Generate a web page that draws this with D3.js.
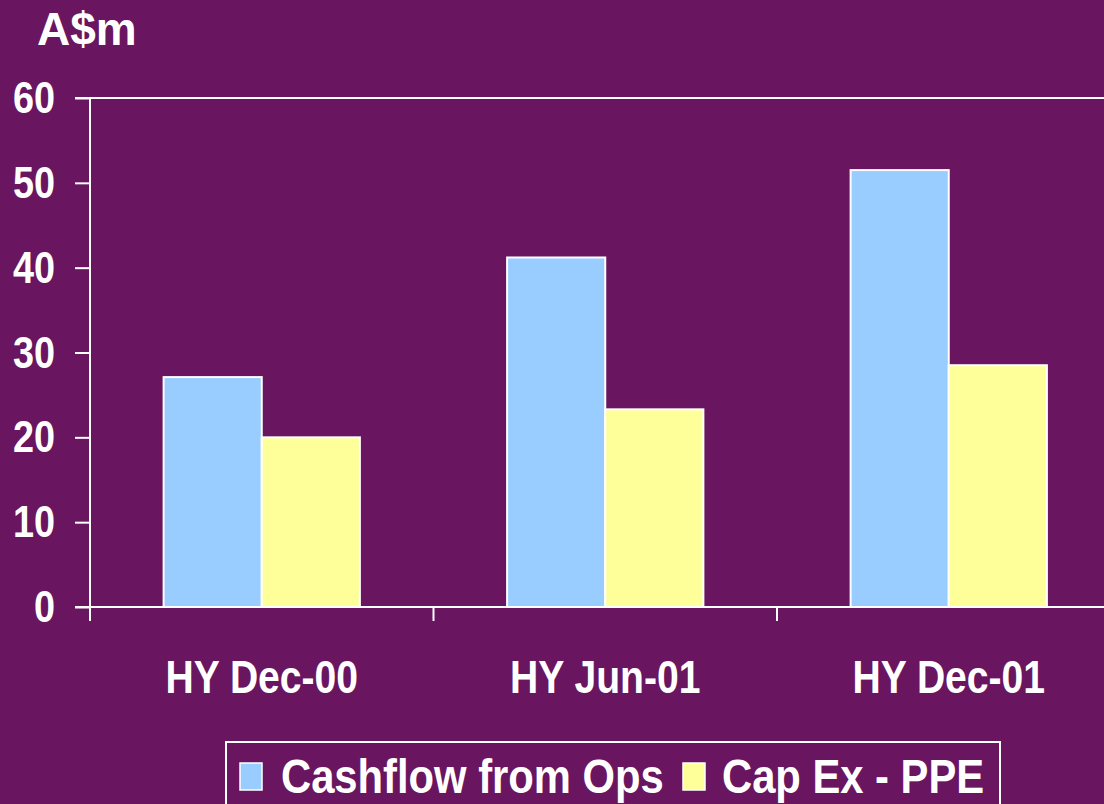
<!DOCTYPE html>
<html>
<head>
<meta charset="utf-8">
<script src="https://cdn.jsdelivr.net/npm/d3@7"></script>
<style>
  html, body { margin: 0; padding: 0; background: #69155f; }
  svg { display: block; }
  text { font-family: "Liberation Sans", Arial, sans-serif; font-weight: bold; fill: #fff; }
</style>
</head>
<body>
<div id="chart"></div>
<script>
// data
const categories = ["HY Dec-00", "HY Jun-01", "HY Dec-01"];
const seriesNames = ["Cashflow from Ops", "Cap Ex - PPE"];
const cashflow = [27.1, 41.2, 51.5];
const capex = [20.0, 23.3, 28.5];
const yTicks = [0, 10, 20, 30, 40, 50, 60];
const colors = ["#99ccff", "#ffff99"];

const width = 1104, height = 804;
const svg = d3.select("#chart").append("svg")
    .attr("width", width)
    .attr("height", height);

svg.append("rect").attr("width", width).attr("height", height).attr("fill", "#69155f");

const plotLeft = 90, plotTop = 98, plotBottom = 607;
const step = 343.5;

const y = d3.scaleLinear().domain([0, 60]).range([plotBottom, plotTop]);
const x0 = d3.scaleBand().domain(categories)
    .range([plotLeft, plotLeft + step * categories.length])
    .padding(0);
const x1 = d3.scaleBand().domain(seriesNames)
    .range([0, x0.bandwidth()])
    .paddingInner(0)
    .paddingOuter(0.75);

const rows = categories.map((c, i) => ({ cat: c, vals: [cashflow[i], capex[i]] }));

// top border line
svg.append("line")
    .attr("x1", 75).attr("x2", width)
    .attr("y1", y(60)).attr("y2", y(60))
    .attr("stroke", "#fff").attr("stroke-width", 2);

// bars
const groups = svg.selectAll("g.grp")
    .data(rows)
    .enter()
    .append("g")
    .attr("class", "grp")
    .attr("transform", d => `translate(${x0(d.cat)},0)`);

groups.selectAll("rect")
    .data(d => d.vals.map((v, j) => ({ name: seriesNames[j], v: v, j: j })))
    .enter()
    .append("rect")
    .attr("x", d => x1(d.name))
    .attr("y", d => y(d.v))
    .attr("width", x1.bandwidth())
    .attr("height", d => y(0) - y(d.v))
    .attr("fill", d => colors[d.j])
    .attr("stroke", "#fff")
    .attr("stroke-width", 2);

// y axis
const yAxis = d3.axisLeft(y).tickValues(yTicks).tickSize(15).tickFormat("");
const yg = svg.append("g").attr("transform", `translate(${plotLeft},0)`).call(yAxis);
yg.select(".domain").remove();
yg.selectAll(".tick line").attr("stroke", "#fff").attr("stroke-width", 2);
yg.append("line")
    .attr("x1", 0).attr("x2", 0)
    .attr("y1", plotTop).attr("y2", plotBottom + 14)
    .attr("stroke", "#fff").attr("stroke-width", 2);

// y tick labels (horizontally compressed)
svg.selectAll("text.ylab")
    .data(yTicks)
    .enter()
    .append("text")
    .attr("class", "ylab")
    .attr("transform", d => `translate(55,${y(d) + 15}) scale(0.86,1)`)
    .attr("text-anchor", "end")
    .style("font-size", "44px")
    .text(d => d);

// x axis
const xAxis = d3.axisBottom(x0).tickSize(0).tickFormat("");
const xg = svg.append("g").attr("transform", `translate(0,${plotBottom})`).call(xAxis);
xg.select(".domain").remove();
xg.append("line")
    .attr("x1", 75).attr("x2", width)
    .attr("y1", 0).attr("y2", 0)
    .attr("stroke", "#fff").attr("stroke-width", 2);
xg.selectAll("line.ctick")
    .data(categories.slice(1))
    .enter()
    .append("line")
    .attr("class", "ctick")
    .attr("x1", d => x0(d)).attr("x2", d => x0(d))
    .attr("y1", 0).attr("y2", 14)
    .attr("stroke", "#fff").attr("stroke-width", 2);

svg.selectAll("text.xlab")
    .data(categories)
    .enter()
    .append("text")
    .attr("class", "xlab")
    .attr("transform", d => `translate(${x0(d) + x0.bandwidth() / 2},693) scale(0.85,1)`)
    .attr("text-anchor", "middle")
    .style("font-size", "46px")
    .text(d => d);

// unit label
svg.append("text")
    .attr("x", 37).attr("y", 45)
    .style("font-size", "46px")
    .text("A$m");

// legend
svg.append("rect")
    .attr("x", 226).attr("y", 742)
    .attr("width", 774).attr("height", 80)
    .attr("fill", "none")
    .attr("stroke", "#fff").attr("stroke-width", 2);

const legendX = [240, 683];
const legendTextX = [281, 722];
const lg = svg.selectAll("g.leg")
    .data(seriesNames)
    .enter()
    .append("g")
    .attr("class", "leg");
lg.append("rect")
    .attr("x", (d, i) => legendX[i]).attr("y", 763)
    .attr("width", 22).attr("height", 27)
    .attr("fill", (d, i) => colors[i])
    .attr("stroke", "#fff").attr("stroke-width", 1.5);
lg.append("text")
    .attr("transform", (d, i) => `translate(${legendTextX[i]},793) scale(0.87,1)`)
    .style("font-size", "48px")
    .text(d => d);
</script>
</body>
</html>
